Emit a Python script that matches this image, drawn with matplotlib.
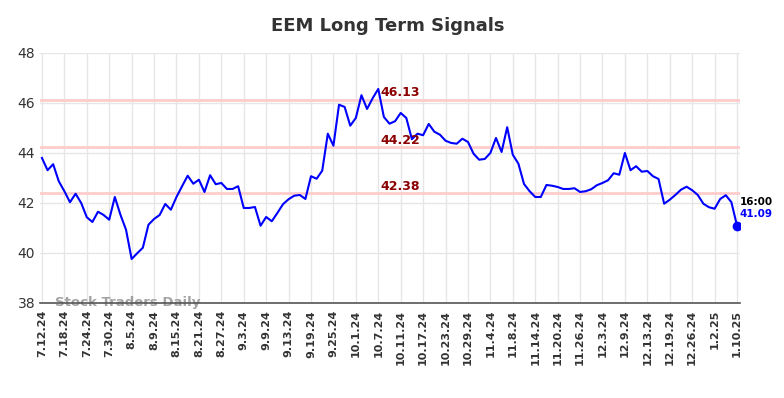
"""EEM long term signals chart"""
import matplotlib
matplotlib.use("Agg")
import matplotlib.pyplot as plt

# closing prices, one per trading day (7.12.24 .. 1.10.25)
prices = [
    43.80, 43.31, 43.55, 42.87, 42.47, 42.03, 42.37, 42.00, 41.43, 41.24,
    41.65, 41.52, 41.33, 42.24, 41.53, 40.93, 39.76, 39.99, 40.21, 41.13,
    41.36, 41.52, 41.96, 41.73, 42.24, 42.67, 43.09, 42.77, 42.93, 42.44,
    43.11, 42.75, 42.80, 42.56, 42.56, 42.67, 41.80, 41.80, 41.84, 41.09,
    41.44, 41.27, 41.60, 41.95, 42.15, 42.29, 42.32, 42.16, 43.07, 42.97,
    43.29, 44.77, 44.29, 45.93, 45.84, 45.09, 45.40, 46.31, 45.76, 46.19,
    46.56, 45.44, 45.17, 45.27, 45.60, 45.40, 44.55, 44.77, 44.71, 45.16,
    44.85, 44.73, 44.49, 44.40, 44.37, 44.57, 44.44, 43.97, 43.73, 43.76,
    44.00, 44.60, 44.04, 45.03, 43.93, 43.57, 42.76, 42.47, 42.24, 42.24,
    42.72, 42.69, 42.64, 42.56, 42.56, 42.59, 42.44, 42.47, 42.55, 42.71,
    42.80, 42.91, 43.19, 43.13, 44.00, 43.31, 43.47, 43.25, 43.28, 43.07,
    42.96, 41.97, 42.13, 42.32, 42.53, 42.65, 42.51, 42.32, 41.97, 41.83,
    41.77, 42.16, 42.31, 42.03, 41.09,
]

tick_labels = [
    "7.12.24", "7.18.24", "7.24.24", "7.30.24", "8.5.24", "8.9.24", "8.15.24",
    "8.21.24", "8.27.24", "9.3.24", "9.9.24", "9.13.24", "9.19.24", "9.25.24",
    "10.1.24", "10.7.24", "10.11.24", "10.17.24", "10.23.24", "10.29.24",
    "11.4.24", "11.8.24", "11.14.24", "11.20.24", "11.26.24", "12.3.24",
    "12.9.24", "12.13.24", "12.19.24", "12.26.24", "1.2.25", "1.10.25",
]
tick_step = 4

signal_levels = [46.13, 44.22, 42.38]
last_time = "16:00"

fig = plt.figure(figsize=(7.84, 3.98), dpi=100)
ax = fig.add_axes([0.051, 0.2387, 0.893, 0.6283])

x = list(range(len(prices)))
ax.plot(x, prices, color="#0000ff", linewidth=1.5, zorder=3)
ax.plot(x[-1], prices[-1], "o", color="#0000ff", markersize=6, zorder=4)

for level in signal_levels:
    ax.axhline(level, color="#ffcccc", linewidth=2, zorder=2)
    ax.text(60.3, level + 0.03, f"{level:.2f}", color="#8b0000",
            fontsize=9, fontweight="bold", va="bottom", ha="left", zorder=5)

ax.text(x[-1] + 0.5, prices[-1] + 0.95, last_time, color="black",
        fontsize=7.5, fontweight="bold", va="center", ha="left")
ax.text(x[-1] + 0.5, prices[-1] + 0.45, f"{prices[-1]:.2f}", color="#0000ff",
        fontsize=7.5, fontweight="bold", va="center", ha="left")

ax.text(2.3, 38.0, "Stock Traders Daily", color="#999999", fontsize=9.5,
        fontweight="bold", va="center", ha="left", alpha=0.9, zorder=1)

ax.set_xlim(-0.35, len(prices) - 0.45)
ax.set_ylim(38, 48)
ax.set_yticks([38, 40, 42, 44, 46, 48])
ax.set_xticks(range(0, len(prices), tick_step))
ax.set_xticklabels(tick_labels, rotation=90, fontsize=8, fontweight="bold",
                   color="#333333")
ax.tick_params(axis="y", labelsize=10, colors="#333333", length=0)
ax.tick_params(axis="x", length=0, pad=5)
ax.grid(True, color="#e6e6e6", linewidth=1)
ax.set_axisbelow(True)
for side in ["top", "right", "left"]:
    ax.spines[side].set_visible(False)
ax.spines["bottom"].set_color("#555555")
ax.spines["bottom"].set_linewidth(1.2)

fig.suptitle("EEM Long Term Signals", x=0.495, y=0.958, fontsize=13,
             fontweight="bold", color="#333333")

fig.savefig("out.png", dpi=100)
